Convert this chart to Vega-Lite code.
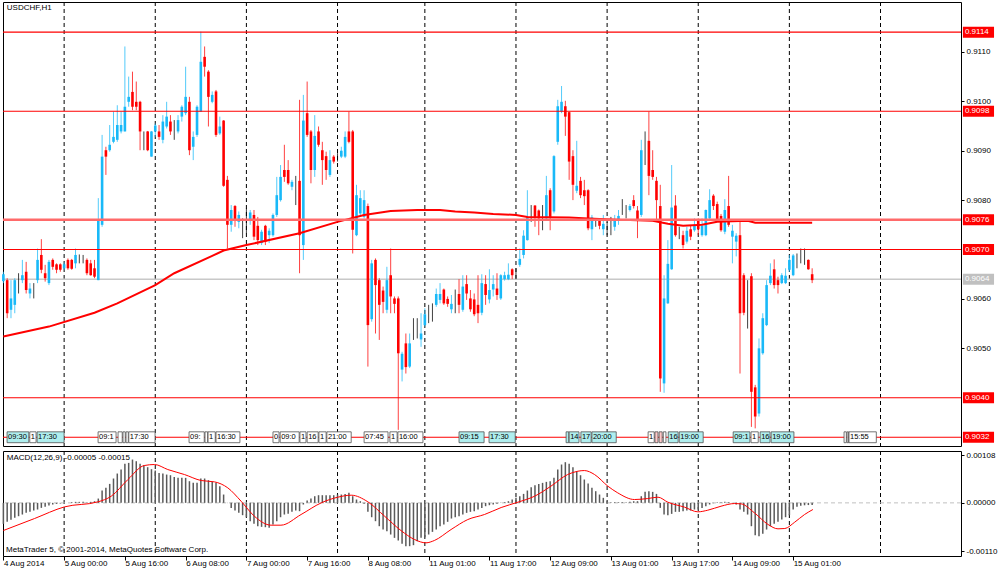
{
  "$schema": "https://vega.github.io/schema/vega-lite/v6.json",
  "background": "white",
  "padding": {"left": -2, "top": 1, "right": 0, "bottom": 0},
  "spacing": 3,
  "datasets": {
    "bars": [
      {"i":0,"o":0.90636,"h":0.90655,"l":0.90632,"c":0.90650,"m":-0.000477},
      {"i":1,"o":0.90638,"h":0.90642,"l":0.90561,"c":0.90571,"m":-0.000431},
      {"i":2,"o":0.90578,"h":0.90638,"l":0.90561,"c":0.90601,"m":-0.000386},
      {"i":3,"o":0.90588,"h":0.90642,"l":0.90571,"c":0.90638,"m":-0.000341},
      {"i":4,"o":0.90635,"h":0.90652,"l":0.90611,"c":0.90635,"m":-0.000303},
      {"i":5,"o":0.90638,"h":0.90679,"l":0.90632,"c":0.90648,"m":-0.000265},
      {"i":6,"o":0.90655,"h":0.90675,"l":0.90611,"c":0.90618,"m":-0.000227},
      {"i":7,"o":0.90611,"h":0.90632,"l":0.90601,"c":0.90621,"m":-0.000204},
      {"i":8,"o":0.90618,"h":0.90632,"l":0.90601,"c":0.90618,"m":-0.000174},
      {"i":9,"o":0.90638,"h":0.90702,"l":0.90632,"c":0.90679,"m":-0.000151},
      {"i":10,"o":0.90689,"h":0.90721,"l":0.90652,"c":0.90659,"m":-0.000114},
      {"i":11,"o":0.90652,"h":0.90669,"l":0.90635,"c":0.90642,"m":-0.000091},
      {"i":12,"o":0.90632,"h":0.90679,"l":0.90628,"c":0.90675,"m":-0.000061},
      {"i":13,"o":0.90679,"h":0.90682,"l":0.90659,"c":0.90665,"m":-0.000038},
      {"i":14,"o":0.90670,"h":0.90672,"l":0.90652,"c":0.90659,"m":-0.000023},
      {"i":15,"o":0.90670,"h":0.90672,"l":0.90655,"c":0.90659,"m":-0.000015},
      {"i":16,"o":0.90662,"h":0.90674,"l":0.90659,"c":0.90670,"m":-0.000008},
      {"i":17,"o":0.90679,"h":0.90682,"l":0.90659,"c":0.90662,"m":0.000003},
      {"i":18,"o":0.90679,"h":0.90681,"l":0.90659,"c":0.90661,"m":0.000015},
      {"i":19,"o":0.90672,"h":0.90702,"l":0.90662,"c":0.90689,"m":0.000023},
      {"i":20,"o":0.90682,"h":0.90690,"l":0.90672,"c":0.90682,"m":0.000023},
      {"i":21,"o":0.90679,"h":0.90689,"l":0.90672,"c":0.90679,"m":0.000023},
      {"i":22,"o":0.90679,"h":0.90682,"l":0.90648,"c":0.90652,"m":0.000015},
      {"i":23,"o":0.90672,"h":0.90679,"l":0.90647,"c":0.90648,"m":0.000023},
      {"i":24,"o":0.90662,"h":0.90679,"l":0.90642,"c":0.90645,"m":0.000038},
      {"i":25,"o":0.90638,"h":0.90804,"l":0.90638,"c":0.90760,"m":0.000098},
      {"i":26,"o":0.90750,"h":0.90932,"l":0.90746,"c":0.90888,"m":0.000280},
      {"i":27,"o":0.90901,"h":0.90908,"l":0.90851,"c":0.90888,"m":0.000341},
      {"i":28,"o":0.90901,"h":0.90952,"l":0.90898,"c":0.90912,"m":0.000431},
      {"i":29,"o":0.90918,"h":0.90979,"l":0.90915,"c":0.90928,"m":0.000553},
      {"i":30,"o":0.90922,"h":0.90992,"l":0.90918,"c":0.90952,"m":0.000666},
      {"i":31,"o":0.90939,"h":0.90979,"l":0.90935,"c":0.90952,"m":0.000757},
      {"i":32,"o":0.90939,"h":0.91111,"l":0.90939,"c":0.90989,"m":0.000886},
      {"i":33,"o":0.90999,"h":0.91050,"l":0.90989,"c":0.91009,"m":0.000908},
      {"i":34,"o":0.91019,"h":0.91060,"l":0.90982,"c":0.90989,"m":0.000984},
      {"i":35,"o":0.90999,"h":0.91040,"l":0.90982,"c":0.90989,"m":0.000946},
      {"i":36,"o":0.90999,"h":0.91001,"l":0.90901,"c":0.90939,"m":0.000886},
      {"i":37,"o":0.90935,"h":0.90939,"l":0.90901,"c":0.90935,"m":0.000855},
      {"i":38,"o":0.90939,"h":0.90940,"l":0.90899,"c":0.90901,"m":0.000810},
      {"i":39,"o":0.90888,"h":0.90940,"l":0.90888,"c":0.90939,"m":0.000765},
      {"i":40,"o":0.90939,"h":0.90955,"l":0.90928,"c":0.90951,"m":0.000734},
      {"i":41,"o":0.90939,"h":0.90952,"l":0.90922,"c":0.90928,"m":0.000681},
      {"i":42,"o":0.90922,"h":0.90972,"l":0.90915,"c":0.90959,"m":0.000666},
      {"i":43,"o":0.90949,"h":0.90999,"l":0.90945,"c":0.90969,"m":0.000643},
      {"i":44,"o":0.90959,"h":0.90972,"l":0.90932,"c":0.90939,"m":0.000628},
      {"i":45,"o":0.90952,"h":0.90962,"l":0.90922,"c":0.90952,"m":0.000590},
      {"i":46,"o":0.90939,"h":0.90972,"l":0.90935,"c":0.90962,"m":0.000568},
      {"i":47,"o":0.90969,"h":0.90992,"l":0.90959,"c":0.90989,"m":0.000568},
      {"i":48,"o":0.90976,"h":0.91070,"l":0.90972,"c":0.91009,"m":0.000568},
      {"i":49,"o":0.90999,"h":0.91009,"l":0.90891,"c":0.90901,"m":0.000492},
      {"i":50,"o":0.90908,"h":0.90939,"l":0.90881,"c":0.90928,"m":0.000454},
      {"i":51,"o":0.90932,"h":0.90992,"l":0.90928,"c":0.90989,"m":0.000454},
      {"i":52,"o":0.90979,"h":0.91141,"l":0.90979,"c":0.91080,"m":0.000553},
      {"i":53,"o":0.91090,"h":0.91111,"l":0.91050,"c":0.91070,"m":0.000553},
      {"i":54,"o":0.91060,"h":0.91063,"l":0.90949,"c":0.91009,"m":0.000515},
      {"i":55,"o":0.90999,"h":0.91020,"l":0.90996,"c":0.91013,"m":0.000477},
      {"i":56,"o":0.91020,"h":0.91023,"l":0.90928,"c":0.90932,"m":0.000454},
      {"i":57,"o":0.90935,"h":0.90969,"l":0.90932,"c":0.90949,"m":0.000379},
      {"i":58,"o":0.90961,"h":0.90962,"l":0.90827,"c":0.90829,"m":0.000189},
      {"i":59,"o":0.90841,"h":0.90849,"l":0.90702,"c":0.90750,"m":-0.000005},
      {"i":60,"o":0.90750,"h":0.90790,"l":0.90736,"c":0.90780,"m":-0.000114},
      {"i":61,"o":0.90788,"h":0.90790,"l":0.90746,"c":0.90760,"m":-0.000174},
      {"i":62,"o":0.90756,"h":0.90777,"l":0.90743,"c":0.90770,"m":-0.000227},
      {"i":63,"o":0.90753,"h":0.90763,"l":0.90723,"c":0.90753,"m":-0.000280},
      {"i":64,"o":0.90760,"h":0.90783,"l":0.90733,"c":0.90760,"m":-0.000326},
      {"i":65,"o":0.90760,"h":0.90780,"l":0.90750,"c":0.90775,"m":-0.000416},
      {"i":66,"o":0.90770,"h":0.90780,"l":0.90719,"c":0.90726,"m":-0.000477},
      {"i":67,"o":0.90748,"h":0.90766,"l":0.90709,"c":0.90719,"m":-0.000530},
      {"i":68,"o":0.90713,"h":0.90740,"l":0.90709,"c":0.90736,"m":-0.000545},
      {"i":69,"o":0.90748,"h":0.90750,"l":0.90709,"c":0.90716,"m":-0.000553},
      {"i":70,"o":0.90729,"h":0.90743,"l":0.90713,"c":0.90738,"m":-0.000568},
      {"i":71,"o":0.90729,"h":0.90773,"l":0.90726,"c":0.90770,"m":-0.000492},
      {"i":72,"o":0.90770,"h":0.90847,"l":0.90766,"c":0.90810,"m":-0.000416},
      {"i":73,"o":0.90800,"h":0.90871,"l":0.90797,"c":0.90847,"m":-0.000326},
      {"i":74,"o":0.90861,"h":0.90912,"l":0.90837,"c":0.90847,"m":-0.000265},
      {"i":75,"o":0.90861,"h":0.90881,"l":0.90831,"c":0.90834,"m":-0.000250},
      {"i":76,"o":0.90827,"h":0.90841,"l":0.90820,"c":0.90837,"m":-0.000204},
      {"i":77,"o":0.90831,"h":0.90849,"l":0.90790,"c":0.90831,"m":-0.000174},
      {"i":78,"o":0.90839,"h":0.91003,"l":0.90652,"c":0.90729,"m":-0.000189},
      {"i":79,"o":0.90709,"h":0.91013,"l":0.90679,"c":0.90961,"m":-0.000038},
      {"i":80,"o":0.90976,"h":0.91040,"l":0.90928,"c":0.90932,"m":0.000053},
      {"i":81,"o":0.90939,"h":0.90942,"l":0.90834,"c":0.90861,"m":0.000098},
      {"i":82,"o":0.90861,"h":0.90972,"l":0.90847,"c":0.90930,"m":0.000151},
      {"i":83,"o":0.90939,"h":0.90949,"l":0.90908,"c":0.90912,"m":0.000174},
      {"i":84,"o":0.90901,"h":0.90918,"l":0.90831,"c":0.90881,"m":0.000174},
      {"i":85,"o":0.90889,"h":0.90898,"l":0.90841,"c":0.90861,"m":0.000174},
      {"i":86,"o":0.90851,"h":0.90901,"l":0.90847,"c":0.90881,"m":0.000174},
      {"i":87,"o":0.90888,"h":0.90891,"l":0.90874,"c":0.90878,"m":0.000174},
      {"i":88,"o":0.90887,"h":0.90895,"l":0.90878,"c":0.90887,"m":0.000189},
      {"i":89,"o":0.90888,"h":0.90908,"l":0.90885,"c":0.90900,"m":0.000189},
      {"i":90,"o":0.90888,"h":0.90939,"l":0.90885,"c":0.90928,"m":0.000204},
      {"i":91,"o":0.90939,"h":0.90979,"l":0.90915,"c":0.90918,"m":0.000227},
      {"i":92,"o":0.90939,"h":0.90942,"l":0.90692,"c":0.90740,"m":0.000151},
      {"i":93,"o":0.90729,"h":0.90831,"l":0.90727,"c":0.90810,"m":0.000076},
      {"i":94,"o":0.90773,"h":0.90820,"l":0.90766,"c":0.90804,"m":0.000038},
      {"i":95,"o":0.90766,"h":0.90820,"l":0.90763,"c":0.90800,"m":-0.000023},
      {"i":96,"o":0.90788,"h":0.90793,"l":0.90463,"c":0.90547,"m":-0.000204},
      {"i":97,"o":0.90559,"h":0.90679,"l":0.90554,"c":0.90672,"m":-0.000326},
      {"i":98,"o":0.90679,"h":0.90682,"l":0.90530,"c":0.90628,"m":-0.000416},
      {"i":99,"o":0.90638,"h":0.90642,"l":0.90517,"c":0.90588,"m":-0.000530},
      {"i":100,"o":0.90617,"h":0.90625,"l":0.90571,"c":0.90594,"m":-0.000606},
      {"i":101,"o":0.90578,"h":0.90665,"l":0.90571,"c":0.90638,"m":-0.000643},
      {"i":102,"o":0.90648,"h":0.90702,"l":0.90571,"c":0.90605,"m":-0.000719},
      {"i":103,"o":0.90601,"h":0.90605,"l":0.90571,"c":0.90590,"m":-0.000795},
      {"i":104,"o":0.90601,"h":0.90605,"l":0.90335,"c":0.90490,"m":-0.000855},
      {"i":105,"o":0.90457,"h":0.90493,"l":0.90433,"c":0.90489,"m":-0.000931},
      {"i":106,"o":0.90510,"h":0.90530,"l":0.90449,"c":0.90462,"m":-0.000984},
      {"i":107,"o":0.90463,"h":0.90530,"l":0.90460,"c":0.90510,"m":-0.000984},
      {"i":108,"o":0.90524,"h":0.90561,"l":0.90517,"c":0.90524,"m":-0.000961},
      {"i":109,"o":0.90544,"h":0.90561,"l":0.90520,"c":0.90544,"m":-0.000871},
      {"i":110,"o":0.90518,"h":0.90571,"l":0.90503,"c":0.90530,"m":-0.000795},
      {"i":111,"o":0.90547,"h":0.90581,"l":0.90544,"c":0.90569,"m":-0.000780},
      {"i":112,"o":0.90571,"h":0.90588,"l":0.90551,"c":0.90571,"m":-0.000719},
      {"i":113,"o":0.90581,"h":0.90591,"l":0.90554,"c":0.90581,"m":-0.000659},
      {"i":114,"o":0.90588,"h":0.90621,"l":0.90584,"c":0.90610,"m":-0.000606},
      {"i":115,"o":0.90598,"h":0.90632,"l":0.90591,"c":0.90610,"m":-0.000530},
      {"i":116,"o":0.90619,"h":0.90621,"l":0.90588,"c":0.90591,"m":-0.000492},
      {"i":117,"o":0.90600,"h":0.90605,"l":0.90584,"c":0.90590,"m":-0.000431},
      {"i":118,"o":0.90579,"h":0.90608,"l":0.90571,"c":0.90590,"m":-0.000356},
      {"i":119,"o":0.90598,"h":0.90619,"l":0.90571,"c":0.90598,"m":-0.000326},
      {"i":120,"o":0.90610,"h":0.90640,"l":0.90571,"c":0.90588,"m":-0.000303},
      {"i":121,"o":0.90578,"h":0.90648,"l":0.90574,"c":0.90625,"m":-0.000265},
      {"i":122,"o":0.90630,"h":0.90648,"l":0.90598,"c":0.90611,"m":-0.000227},
      {"i":123,"o":0.90601,"h":0.90618,"l":0.90574,"c":0.90579,"m":-0.000204},
      {"i":124,"o":0.90599,"h":0.90611,"l":0.90565,"c":0.90569,"m":-0.000189},
      {"i":125,"o":0.90588,"h":0.90648,"l":0.90551,"c":0.90571,"m":-0.000151},
      {"i":126,"o":0.90572,"h":0.90650,"l":0.90567,"c":0.90632,"m":-0.000114},
      {"i":127,"o":0.90630,"h":0.90648,"l":0.90588,"c":0.90608,"m":-0.000076},
      {"i":128,"o":0.90599,"h":0.90660,"l":0.90591,"c":0.90618,"m":-0.000053},
      {"i":129,"o":0.90619,"h":0.90648,"l":0.90605,"c":0.90630,"m":-0.000038},
      {"i":130,"o":0.90621,"h":0.90652,"l":0.90598,"c":0.90608,"m":-0.000023},
      {"i":131,"o":0.90601,"h":0.90650,"l":0.90598,"c":0.90648,"m":0.000008},
      {"i":132,"o":0.90640,"h":0.90655,"l":0.90637,"c":0.90648,"m":0.000015},
      {"i":133,"o":0.90640,"h":0.90672,"l":0.90638,"c":0.90649,"m":0.000038},
      {"i":134,"o":0.90660,"h":0.90662,"l":0.90640,"c":0.90648,"m":0.000076},
      {"i":135,"o":0.90659,"h":0.90662,"l":0.90640,"c":0.90659,"m":0.000114},
      {"i":136,"o":0.90669,"h":0.90702,"l":0.90665,"c":0.90681,"m":0.000151},
      {"i":137,"o":0.90689,"h":0.90739,"l":0.90682,"c":0.90728,"m":0.000204},
      {"i":138,"o":0.90719,"h":0.90820,"l":0.90718,"c":0.90766,"m":0.000280},
      {"i":139,"o":0.90766,"h":0.90790,"l":0.90756,"c":0.90766,"m":0.000356},
      {"i":140,"o":0.90789,"h":0.90790,"l":0.90746,"c":0.90766,"m":0.000401},
      {"i":141,"o":0.90779,"h":0.90781,"l":0.90729,"c":0.90763,"m":0.000431},
      {"i":142,"o":0.90766,"h":0.90790,"l":0.90739,"c":0.90766,"m":0.000454},
      {"i":143,"o":0.90763,"h":0.90849,"l":0.90760,"c":0.90810,"m":0.000477},
      {"i":144,"o":0.90820,"h":0.90824,"l":0.90739,"c":0.90766,"m":0.000492},
      {"i":145,"o":0.90777,"h":0.90891,"l":0.90773,"c":0.90889,"m":0.000568},
      {"i":146,"o":0.90918,"h":0.91003,"l":0.90912,"c":0.90990,"m":0.000757},
      {"i":147,"o":0.90979,"h":0.91031,"l":0.90976,"c":0.90999,"m":0.000871},
      {"i":148,"o":0.90990,"h":0.91001,"l":0.90930,"c":0.90969,"m":0.000924},
      {"i":149,"o":0.90978,"h":0.90979,"l":0.90841,"c":0.90878,"m":0.000886},
      {"i":150,"o":0.90889,"h":0.90901,"l":0.90800,"c":0.90831,"m":0.000810},
      {"i":151,"o":0.90819,"h":0.90920,"l":0.90814,"c":0.90829,"m":0.000719},
      {"i":152,"o":0.90839,"h":0.90847,"l":0.90804,"c":0.90810,"m":0.000628},
      {"i":153,"o":0.90820,"h":0.90841,"l":0.90790,"c":0.90808,"m":0.000530},
      {"i":154,"o":0.90820,"h":0.90822,"l":0.90739,"c":0.90743,"m":0.000439},
      {"i":155,"o":0.90741,"h":0.90770,"l":0.90719,"c":0.90765,"m":0.000341},
      {"i":156,"o":0.90756,"h":0.90763,"l":0.90746,"c":0.90756,"m":0.000265},
      {"i":157,"o":0.90758,"h":0.90761,"l":0.90741,"c":0.90748,"m":0.000189},
      {"i":158,"o":0.90741,"h":0.90770,"l":0.90729,"c":0.90752,"m":0.000114},
      {"i":159,"o":0.90746,"h":0.90756,"l":0.90729,"c":0.90746,"m":0.000038},
      {"i":160,"o":0.90752,"h":0.90766,"l":0.90729,"c":0.90752,"m":0.000015},
      {"i":161,"o":0.90746,"h":0.90770,"l":0.90738,"c":0.90760,"m":0.000015},
      {"i":162,"o":0.90760,"h":0.90780,"l":0.90750,"c":0.90768,"m":0.000015},
      {"i":163,"o":0.90780,"h":0.90802,"l":0.90770,"c":0.90780,"m":0.000015},
      {"i":164,"o":0.90780,"h":0.90790,"l":0.90763,"c":0.90780,"m":0.000015},
      {"i":165,"o":0.90780,"h":0.90792,"l":0.90777,"c":0.90788,"m":0.000023},
      {"i":166,"o":0.90800,"h":0.90810,"l":0.90783,"c":0.90788,"m":0.000038},
      {"i":167,"o":0.90779,"h":0.90788,"l":0.90723,"c":0.90760,"m":0.000038},
      {"i":168,"o":0.90770,"h":0.90922,"l":0.90766,"c":0.90901,"m":0.000151},
      {"i":169,"o":0.90915,"h":0.90939,"l":0.90871,"c":0.90915,"m":0.000250},
      {"i":170,"o":0.90920,"h":0.90979,"l":0.90810,"c":0.90849,"m":0.000265},
      {"i":171,"o":0.90861,"h":0.90901,"l":0.90841,"c":0.90847,"m":0.000250},
      {"i":172,"o":0.90839,"h":0.90847,"l":0.90760,"c":0.90800,"m":0.000204},
      {"i":173,"o":0.90788,"h":0.90831,"l":0.90412,"c":0.90439,"m":-0.000114},
      {"i":174,"o":0.90429,"h":0.90648,"l":0.90410,"c":0.90601,"m":-0.000265},
      {"i":175,"o":0.90591,"h":0.90719,"l":0.90590,"c":0.90671,"m":-0.000280},
      {"i":176,"o":0.90660,"h":0.90871,"l":0.90659,"c":0.90785,"m":-0.000250},
      {"i":177,"o":0.90789,"h":0.90810,"l":0.90726,"c":0.90729,"m":-0.000204},
      {"i":178,"o":0.90739,"h":0.90746,"l":0.90721,"c":0.90739,"m":-0.000204},
      {"i":179,"o":0.90729,"h":0.90738,"l":0.90702,"c":0.90709,"m":-0.000189},
      {"i":180,"o":0.90716,"h":0.90746,"l":0.90712,"c":0.90738,"m":-0.000174},
      {"i":181,"o":0.90741,"h":0.90748,"l":0.90719,"c":0.90726,"m":-0.000174},
      {"i":182,"o":0.90739,"h":0.90763,"l":0.90736,"c":0.90748,"m":-0.000151},
      {"i":183,"o":0.90761,"h":0.90763,"l":0.90729,"c":0.90741,"m":-0.000151},
      {"i":184,"o":0.90729,"h":0.90763,"l":0.90726,"c":0.90748,"m":-0.000114},
      {"i":185,"o":0.90729,"h":0.90781,"l":0.90727,"c":0.90780,"m":-0.000076},
      {"i":186,"o":0.90763,"h":0.90822,"l":0.90761,"c":0.90800,"m":-0.000038},
      {"i":187,"o":0.90809,"h":0.90812,"l":0.90780,"c":0.90788,"m":-0.000008},
      {"i":188,"o":0.90792,"h":0.90797,"l":0.90756,"c":0.90760,"m":0.000015},
      {"i":189,"o":0.90768,"h":0.90772,"l":0.90736,"c":0.90739,"m":0.000015},
      {"i":190,"o":0.90736,"h":0.90802,"l":0.90731,"c":0.90780,"m":0.000023},
      {"i":191,"o":0.90788,"h":0.90849,"l":0.90746,"c":0.90750,"m":0.000015},
      {"i":192,"o":0.90726,"h":0.90750,"l":0.90672,"c":0.90738,"m":-0.000008},
      {"i":193,"o":0.90716,"h":0.90733,"l":0.90686,"c":0.90728,"m":-0.000038},
      {"i":194,"o":0.90729,"h":0.90756,"l":0.90449,"c":0.90571,"m":-0.000151},
      {"i":195,"o":0.90648,"h":0.90652,"l":0.90567,"c":0.90572,"m":-0.000204},
      {"i":196,"o":0.90633,"h":0.90638,"l":0.90540,"c":0.90633,"m":-0.000265},
      {"i":197,"o":0.90646,"h":0.90652,"l":0.90341,"c":0.90412,"m":-0.000530},
      {"i":198,"o":0.90421,"h":0.90426,"l":0.90338,"c":0.90362,"m":-0.000734},
      {"i":199,"o":0.90368,"h":0.90520,"l":0.90362,"c":0.90500,"m":-0.000757},
      {"i":200,"o":0.90490,"h":0.90571,"l":0.90487,"c":0.90561,"m":-0.000704},
      {"i":201,"o":0.90547,"h":0.90638,"l":0.90545,"c":0.90628,"m":-0.000606},
      {"i":202,"o":0.90632,"h":0.90672,"l":0.90628,"c":0.90647,"m":-0.000530},
      {"i":203,"o":0.90660,"h":0.90680,"l":0.90621,"c":0.90628,"m":-0.000477},
      {"i":204,"o":0.90638,"h":0.90645,"l":0.90611,"c":0.90628,"m":-0.000431},
      {"i":205,"o":0.90632,"h":0.90652,"l":0.90630,"c":0.90648,"m":-0.000379},
      {"i":206,"o":0.90632,"h":0.90662,"l":0.90630,"c":0.90647,"m":-0.000326},
      {"i":207,"o":0.90659,"h":0.90689,"l":0.90655,"c":0.90679,"m":-0.000280},
      {"i":208,"o":0.90648,"h":0.90691,"l":0.90646,"c":0.90688,"m":-0.000151},
      {"i":209,"o":0.90686,"h":0.90692,"l":0.90662,"c":0.90686,"m":-0.000091},
      {"i":210,"o":0.90682,"h":0.90702,"l":0.90672,"c":0.90682,"m":-0.000068},
      {"i":211,"o":0.90679,"h":0.90702,"l":0.90669,"c":0.90679,"m":-0.000055},
      {"i":212,"o":0.90679,"h":0.90680,"l":0.90659,"c":0.90660,"m":-0.000050},
      {"i":213,"o":0.90650,"h":0.90662,"l":0.90632,"c":0.90638,"m":-0.000050}
    ],
    "ma": [
      {"i":0,"v":0.90524},{"i":12,"v":0.90544},{"i":24,"v":0.90572},{"i":30,"v":0.90591},
      {"i":40,"v":0.90628},{"i":45,"v":0.90652},{"i":55,"v":0.90687},{"i":58,"v":0.90698},
      {"i":64,"v":0.90709},{"i":78,"v":0.90733},{"i":88,"v":0.90756},{"i":95,"v":0.90770},
      {"i":102,"v":0.90778},{"i":109,"v":0.90780},{"i":115,"v":0.90780},{"i":119,"v":0.90777},
      {"i":124,"v":0.90775},{"i":129,"v":0.90772},{"i":135,"v":0.90770},{"i":138,"v":0.90766},
      {"i":149,"v":0.90765},{"i":154,"v":0.90763},{"i":163,"v":0.90760},{"i":171,"v":0.90758},
      {"i":175,"v":0.90752},{"i":179,"v":0.90748},{"i":184,"v":0.90750},{"i":188,"v":0.90756},
      {"i":196,"v":0.90758},{"i":198,"v":0.90754},{"i":213,"v":0.90754}
    ],
    "sig": [
      {"i":0,"s":-0.000628},{"i":8.2,"s":-0.000356},{"i":16.1,"s":-0.000091},{"i":24.9,"s":0.000023},
      {"i":28.4,"s":0.000151},{"i":32.8,"s":0.000530},{"i":37.1,"s":0.000848},{"i":39.8,"s":0.000871},
      {"i":43.3,"s":0.000757},{"i":47.7,"s":0.000643},{"i":52.1,"s":0.000507},{"i":55.6,"s":0.000477},
      {"i":59.1,"s":0.000341},{"i":62.6,"s":0.000038},{"i":66.1,"s":-0.000303},{"i":70.5,"s":-0.000507},
      {"i":73.1,"s":-0.000507},{"i":78.4,"s":-0.000265},{"i":83.7,"s":0.0},{"i":88.1,"s":0.000129},
      {"i":91.6,"s":0.000174},{"i":96,"s":0.000023},{"i":100.4,"s":-0.000303},{"i":104.7,"s":-0.000628},
      {"i":108.3,"s":-0.000833},{"i":111.3,"s":-0.000908},{"i":113.5,"s":-0.000855},{"i":117.9,"s":-0.000606},
      {"i":122.3,"s":-0.000379},{"i":126.7,"s":-0.000265},{"i":131.1,"s":-0.000106},{"i":135.5,"s":0.000015},
      {"i":139.9,"s":0.000151},{"i":144.2,"s":0.000379},{"i":148.6,"s":0.000643},{"i":151.3,"s":0.000719},
      {"i":153,"s":0.000734},{"i":155.7,"s":0.000643},{"i":159.2,"s":0.000379},{"i":161.8,"s":0.000227},
      {"i":166.2,"s":0.000076},{"i":169.7,"s":0.000098},{"i":172.4,"s":0.000129},{"i":175,"s":0.000015},
      {"i":179.4,"s":-0.000098},{"i":182.9,"s":-0.000204},{"i":185.5,"s":-0.000167},{"i":189,"s":-0.000076},
      {"i":192.6,"s":-0.000015},{"i":194.3,"s":-0.000023},{"i":197.8,"s":-0.000227},{"i":201.4,"s":-0.000492},
      {"i":204,"s":-0.000590},{"i":205.8,"s":-0.000583},{"i":208.4,"s":-0.000439},{"i":211,"s":-0.000265},
      {"i":213.2,"s":-0.000151}
    ],
    "days": [{"d":16},{"d":40},{"d":64},{"d":88},{"d":111},{"d":135},{"d":159},{"d":183},{"d":207},{"d":231}],
    "levels": [{"p":0.9114},{"p":0.9098},{"p":0.9076},{"p":0.9070},{"p":0.9064},{"p":0.9040},{"p":0.9032}],
    "events": [
      {"a":0.97,"b":6.69,"t":"09:30","k":"c"},
      {"a":6.95,"b":8.61,"t":"1","k":"w"},
      {"a":8.88,"b":15.99,"t":"17:30","k":"c"},
      {"a":24.94,"b":29.68,"t":"09:1","k":"w"},
      {"a":30.2,"b":31.3,"t":"","k":"w"},
      {"a":31.5,"b":32.1,"t":"","k":"w"},
      {"a":32.3,"b":32.9,"t":"","k":"w"},
      {"a":33.03,"b":39.95,"t":"17:30","k":"w"},
      {"a":48.9,"b":52.9,"t":"09:","k":"w"},
      {"a":53.1,"b":53.8,"t":"","k":"w"},
      {"a":53.9,"b":55.8,"t":"1","k":"w"},
      {"a":56.0,"b":62.3,"t":"16:30","k":"w"},
      {"a":71.0,"b":72.6,"t":"0","k":"w"},
      {"a":72.9,"b":77.9,"t":"09:0","k":"w"},
      {"a":78.1,"b":79.7,"t":"1","k":"w"},
      {"a":80.0,"b":82.9,"t":"16","k":"w"},
      {"a":83.1,"b":85.0,"t":"1","k":"w"},
      {"a":85.2,"b":91.6,"t":"21:00","k":"w"},
      {"a":95.0,"b":101.3,"t":"07:45","k":"w"},
      {"a":101.8,"b":103.7,"t":"1","k":"w"},
      {"a":103.9,"b":110.5,"t":"16:00","k":"w"},
      {"a":120.0,"b":126.6,"t":"09:15","k":"c"},
      {"a":127.9,"b":134.8,"t":"17:30","k":"c"},
      {"a":148.2,"b":148.9,"t":"","k":"c"},
      {"a":149.0,"b":151.6,"t":"14","k":"c"},
      {"a":152.1,"b":154.8,"t":"17","k":"c"},
      {"a":155.0,"b":161.4,"t":"20:00","k":"c"},
      {"a":169.8,"b":171.4,"t":"1","k":"w"},
      {"a":171.6,"b":172.4,"t":"","k":"p"},
      {"a":172.7,"b":173.5,"t":"","k":"p"},
      {"a":173.8,"b":174.5,"t":"","k":"w"},
      {"a":175.1,"b":177.7,"t":"16","k":"c"},
      {"a":178.0,"b":184.3,"t":"19:00","k":"c"},
      {"a":192.2,"b":196.6,"t":"09:1","k":"c"},
      {"a":196.9,"b":198.8,"t":"1","k":"w"},
      {"a":199.3,"b":201.9,"t":"16","k":"c"},
      {"a":202.2,"b":208.2,"t":"19:00","k":"c"},
      {"a":221.4,"b":222.0,"t":"","k":"w"},
      {"a":222.2,"b":222.6,"t":"","k":"w"},
      {"a":222.7,"b":229.9,"t":"15:55","k":"w"}
    ]
  },
  "vconcat": [
    {
      "width": 958,
      "height": 444,
      "resolve": {"axis": {"x": "independent", "y": "independent"}},
      "layer": [
        {
          "data": {"name": "bars"},
          "mark": {"type": "rule", "strokeWidth": 1, "opacity": 0},
          "encoding": {
            "x": {"field": "i", "type": "quantitative", "scale": {"domain": [-0.1, 252.2], "nice": false, "zero": false}, "axis": null},
            "y": {"field": "l", "type": "quantitative", "scale": {"domain": [0.903023, 0.91201], "nice": false, "zero": false},
              "axis": {"orient": "right", "values": [0.905, 0.906, 0.908, 0.909, 0.91, 0.911], "format": ".4f", "tickSize": 3, "labelPadding": 2, "title": null}}
          }
        },
        {
          "data": {"name": "days"},
          "mark": {"type": "rule", "color": "#000000", "strokeWidth": 1, "strokeDash": [4, 3]},
          "encoding": {
            "x": {"field": "d", "type": "quantitative", "scale": {"domain": [-0.1, 252.2], "nice": false, "zero": false}, "axis": null}
          }
        },
        {
          "data": {"name": "levels"},
          "transform": [{"filter": "datum.p == 0.9064"}],
          "mark": {"type": "rule", "color": "#C8C8C8", "strokeWidth": 1.5},
          "encoding": {
            "y": {"field": "p", "type": "quantitative", "scale": {"domain": [0.903023, 0.91201], "nice": false, "zero": false}, "axis": null}
          }
        },
        {
          "data": {"name": "bars"},
          "mark": {"type": "rule", "strokeWidth": 1, "opacity": 0.75},
          "encoding": {
            "x": {"field": "i", "type": "quantitative", "scale": {"domain": [-0.1, 252.2], "nice": false, "zero": false}, "axis": null},
            "y": {"field": "l", "type": "quantitative", "scale": {"domain": [0.903023, 0.91201], "nice": false, "zero": false}, "axis": null},
            "y2": {"field": "h"},
            "color": {
              "condition": [
                {"test": "datum.c > datum.o", "value": "#19B9F8"},
                {"test": "datum.c < datum.o", "value": "#FF0000"}
              ],
              "value": "#000000"
            }
          }
        },
        {
          "data": {"name": "bars"},
          "mark": {"type": "rule", "strokeWidth": 2.6},
          "encoding": {
            "x": {"field": "i", "type": "quantitative", "scale": {"domain": [-0.1, 252.2], "nice": false, "zero": false}, "axis": null},
            "y": {"field": "o", "type": "quantitative", "scale": {"domain": [0.903023, 0.91201], "nice": false, "zero": false}, "axis": null},
            "y2": {"field": "c"},
            "color": {
              "condition": [
                {"test": "datum.c > datum.o", "value": "#19B9F8"},
                {"test": "datum.c < datum.o", "value": "#FF0000"}
              ],
              "value": "#000000"
            }
          }
        },
        {
          "data": {"name": "ma"},
          "mark": {"type": "line", "color": "#FF0000", "strokeWidth": 2},
          "encoding": {
            "x": {"field": "i", "type": "quantitative", "scale": {"domain": [-0.1, 252.2], "nice": false, "zero": false}, "axis": null},
            "y": {"field": "v", "type": "quantitative", "scale": {"domain": [0.903023, 0.91201], "nice": false, "zero": false}, "axis": null}
          }
        },
        {
          "data": {"name": "levels"},
          "transform": [{"filter": "datum.p != 0.9064"}],
          "mark": {"type": "rule"},
          "encoding": {
            "y": {"field": "p", "type": "quantitative", "scale": {"domain": [0.903023, 0.91201], "nice": false, "zero": false}, "axis": null},
            "color": {"condition": {"test": "datum.p == 0.9076", "value": "#FF6A6A"}, "value": "#FF0000"},
            "strokeWidth": {"condition": {"test": "datum.p == 0.9076", "value": 2.5}, "value": 1.1}
          }
        },
        {
          "data": {"name": "events"},
          "mark": {"type": "rect", "stroke": "#505050", "strokeWidth": 0.8},
          "encoding": {
            "x": {"field": "a", "type": "quantitative", "scale": {"domain": [-0.1, 252.2], "nice": false, "zero": false}, "axis": null},
            "x2": {"field": "b"},
            "y": {"datum": 0.90309, "type": "quantitative", "scale": {"domain": [0.903023, 0.91201], "nice": false, "zero": false}, "axis": null},
            "y2": {"datum": 0.90331},
            "fill": {"field": "k", "type": "nominal", "scale": {"domain": ["c", "w", "p"], "range": ["#AFEEEE", "#FFFFFF", "#FFC8C8"]}, "legend": null}
          }
        },
        {
          "data": {"name": "events"},
          "mark": {"type": "text", "align": "left", "baseline": "middle", "dx": 1, "fontSize": 7.5, "font": "Liberation Sans", "color": "#000000"},
          "encoding": {
            "x": {"field": "a", "type": "quantitative", "scale": {"domain": [-0.1, 252.2], "nice": false, "zero": false}, "axis": null},
            "y": {"datum": 0.90320, "type": "quantitative", "scale": {"domain": [0.903023, 0.91201], "nice": false, "zero": false}, "axis": null},
            "text": {"field": "t"}
          }
        },
        {
          "data": {"name": "levels"},
          "mark": {"type": "rule", "strokeWidth": 11},
          "encoding": {
            "x": {"datum": 252.7, "type": "quantitative", "scale": {"domain": [-0.1, 252.2], "nice": false, "zero": false}, "axis": null},
            "x2": {"datum": 260.9},
            "y": {"field": "p", "type": "quantitative", "scale": {"domain": [0.903023, 0.91201], "nice": false, "zero": false}, "axis": null},
            "color": {"condition": {"test": "datum.p == 0.9064", "value": "#C0C0C0"}, "value": "#FF0000"}
          }
        },
        {
          "data": {"name": "levels"},
          "mark": {"type": "text", "align": "left", "baseline": "middle", "dx": 2, "fontSize": 8, "font": "Liberation Sans", "color": "#FFFFFF"},
          "encoding": {
            "x": {"datum": 252.7, "type": "quantitative", "scale": {"domain": [-0.1, 252.2], "nice": false, "zero": false}, "axis": null},
            "y": {"field": "p", "type": "quantitative", "scale": {"domain": [0.903023, 0.91201], "nice": false, "zero": false}, "axis": null},
            "text": {"field": "p", "format": ".4f"}
          }
        },
        {
          "data": {"values": [{"i": 0.9, "v": 0.91189, "t": "USDCHF,H1"}]},
          "mark": {"type": "text", "align": "left", "baseline": "middle", "fontSize": 8, "font": "Liberation Sans", "color": "#000000"},
          "encoding": {
            "x": {"field": "i", "type": "quantitative", "scale": {"domain": [-0.1, 252.2], "nice": false, "zero": false}, "axis": null},
            "y": {"field": "v", "type": "quantitative", "scale": {"domain": [0.903023, 0.91201], "nice": false, "zero": false}, "axis": null},
            "text": {"field": "t"}
          }
        }
      ]
    },
    {
      "width": 958,
      "height": 105,
      "resolve": {"axis": {"x": "independent", "y": "independent"}},
      "layer": [
        {
          "data": {"name": "days"},
          "mark": {"type": "rule", "color": "#000000", "strokeWidth": 1, "strokeDash": [4, 3]},
          "encoding": {
            "x": {"field": "d", "type": "quantitative", "scale": {"domain": [-0.1, 252.2], "nice": false, "zero": false}, "axis": null}
          }
        },
        {
          "data": {"values": [{"z": 0}]},
          "mark": {"type": "rule", "color": "#C0C0C0", "strokeWidth": 1, "strokeDash": [4, 3]},
          "encoding": {
            "y": {"field": "z", "type": "quantitative", "scale": {"domain": [-0.001207, 0.001178], "nice": false, "zero": false}, "axis": null}
          }
        },
        {
          "data": {"name": "bars"},
          "mark": {"type": "rule", "color": "#5A5A5A", "strokeWidth": 1.5},
          "encoding": {
            "x": {"field": "i", "type": "quantitative", "scale": {"domain": [-0.1, 252.2], "nice": false, "zero": false},
              "axis": {"values": [0, 16, 32, 48, 64, 80, 96, 112, 128, 144, 160, 176, 192, 208],
                "labelExpr": "['4 Aug 2014','5 Aug 00:00','5 Aug 16:00','6 Aug 08:00','7 Aug 00:00','7 Aug 16:00','8 Aug 08:00','11 Aug 01:00','11 Aug 17:00','12 Aug 09:00','13 Aug 01:00','13 Aug 17:00','14 Aug 09:00','15 Aug 01:00'][round(datum.value / 16)]",
                "labelAlign": "left", "labelPadding": -1, "tickSize": 4, "labelFlush": false, "labelOverlap": false, "title": null}},
            "y": {"field": "m", "type": "quantitative", "scale": {"domain": [-0.001207, 0.001178], "nice": false, "zero": false},
              "axis": {"orient": "right", "values": [0.00108, 0, -0.0011], "labelExpr": "replace(format(datum.value, '.5f'), '\u2212', '-')", "tickSize": 3, "labelPadding": 2, "title": null}},
            "y2": {"datum": 0}
          }
        },
        {
          "data": {"name": "sig"},
          "mark": {"type": "line", "color": "#FF0000", "strokeWidth": 1, "interpolate": "monotone"},
          "encoding": {
            "x": {"field": "i", "type": "quantitative", "scale": {"domain": [-0.1, 252.2], "nice": false, "zero": false}, "axis": null},
            "y": {"field": "s", "type": "quantitative", "scale": {"domain": [-0.001207, 0.001178], "nice": false, "zero": false}, "axis": null}
          }
        },
        {
          "data": {"values": [
            {"i": 0.9, "v": 0.001019, "t": "MACD(12,26,9) -0.00005 -0.00015"},
            {"i": 0.7, "v": -0.001071, "t": "MetaTrader 5, © 2001-2014, MetaQuotes Software Corp."}
          ]},
          "mark": {"type": "text", "align": "left", "baseline": "middle", "fontSize": 8, "font": "Liberation Sans", "color": "#000000"},
          "encoding": {
            "x": {"field": "i", "type": "quantitative", "scale": {"domain": [-0.1, 252.2], "nice": false, "zero": false}, "axis": null},
            "y": {"field": "v", "type": "quantitative", "scale": {"domain": [-0.001207, 0.001178], "nice": false, "zero": false}, "axis": null},
            "text": {"field": "t"}
          }
        }
      ]
    }
  ],
  "config": {
    "view": {"stroke": "#000000", "strokeWidth": 1},
    "axis": {
      "labelFont": "Liberation Sans",
      "labelFontSize": 8,
      "labelColor": "#000000",
      "tickColor": "#000000",
      "domain": false,
      "grid": false
    },
    "text": {"font": "Liberation Sans", "fontSize": 8}
  }
}
